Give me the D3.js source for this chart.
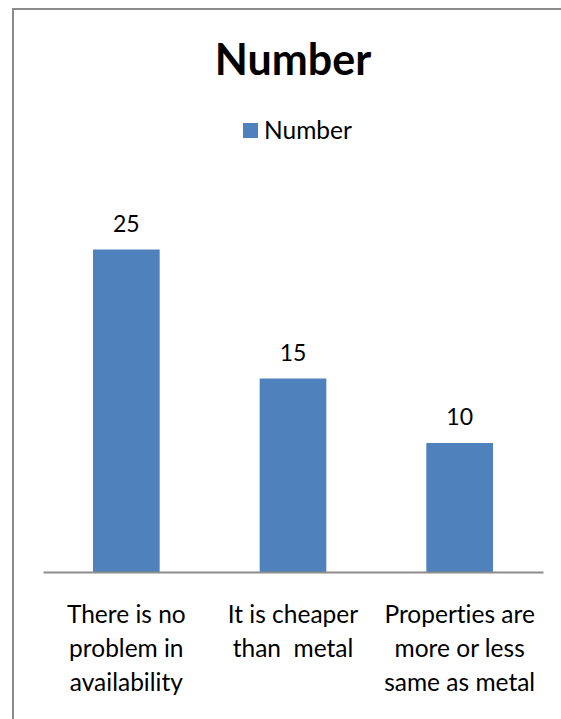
<!DOCTYPE html>
<html>
<head>
<meta charset="utf-8">
<script src="https://cdn.jsdelivr.net/npm/d3@7/dist/d3.min.js"></script>
<style>
  html, body { margin: 0; padding: 0; background: #fff; }
  svg { display: block; }
  text { font-family: Lato, "Open Sans", sans-serif; fill: #000; font-variant-ligatures: none; font-feature-settings: "liga" 0, "clig" 0; }
</style>
</head>
<body>
<svg id="chart" width="561" height="719"></svg>
<script>
const chartTitle = "Number";
const seriesName = "Number";
const categories = [
  "There is no\nproblem in\navailability",
  "It is cheaper\nthan  metal",
  "Properties are\nmore or less\nsame as metal"
];
const values = [25, 15, 10];

const W = 561, H = 719;
const svg = d3.select("#chart");
const barColor = "#4f81bd";

// outer chart border (only top/left visible in frame)
svg.append("rect")
  .attr("x", 13).attr("y", 9)
  .attr("width", 700).attr("height", 900)
  .attr("fill", "none")
  .attr("stroke", "#8c8c8c")
  .attr("stroke-width", 2);

const x = d3.scaleBand()
  .domain(categories)
  .range([43, 543])
  .paddingInner(0.6)
  .paddingOuter(0.3);

const y = d3.scaleLinear()
  .domain([0, 30])
  .range([572, 185]);

// title
svg.append("text")
  .attr("x", 293).attr("y", 75)
  .attr("text-anchor", "middle")
  .style("font-weight", "bold")
  .style("font-size", "43px")
  .text(chartTitle);

// legend
const lg = svg.append("g");
lg.append("rect")
  .attr("x", 243).attr("y", 123)
  .attr("width", 15).attr("height", 15)
  .attr("fill", barColor);
lg.append("text")
  .attr("x", 264).attr("y", 139)
  .style("font-size", "24.5px")
  .text(seriesName);

// bars
svg.append("g").selectAll("rect")
  .data(values)
  .join("rect")
  .attr("x", (d, i) => x(categories[i]))
  .attr("y", d => y(d))
  .attr("width", x.bandwidth())
  .attr("height", d => y(0) - y(d))
  .attr("fill", barColor);

// value labels
svg.append("g").selectAll("text")
  .data(values)
  .join("text")
  .attr("x", (d, i) => x(categories[i]) + x.bandwidth() / 2)
  .attr("y", d => y(d) - 18)
  .attr("text-anchor", "middle")
  .style("font-size", "23px")
  .text(d => d);

// x axis
const xAxis = d3.axisBottom(x).tickSize(0).tickFormat("");
const gx = svg.append("g")
  .attr("transform", `translate(0,${y(0)})`)
  .call(xAxis);
gx.select(".domain").attr("stroke", "#8c8c8c").attr("stroke-width", 2);

// category labels
const labels = svg.append("g").selectAll("text")
  .data(categories)
  .join("text")
  .attr("x", d => x(d) + x.bandwidth() / 2)
  .attr("y", 623)
  .attr("text-anchor", "middle")
  .style("font-size", "24.5px")
  .style("white-space", "pre");
labels.each(function(d) {
  const t = d3.select(this);
  d.split("\n").forEach((line, i) => {
    t.append("tspan")
      .attr("x", t.attr("x"))
      .attr("dy", i === 0 ? 0 : 34)
      .text(line);
  });
});
</script>
</body>
</html>
